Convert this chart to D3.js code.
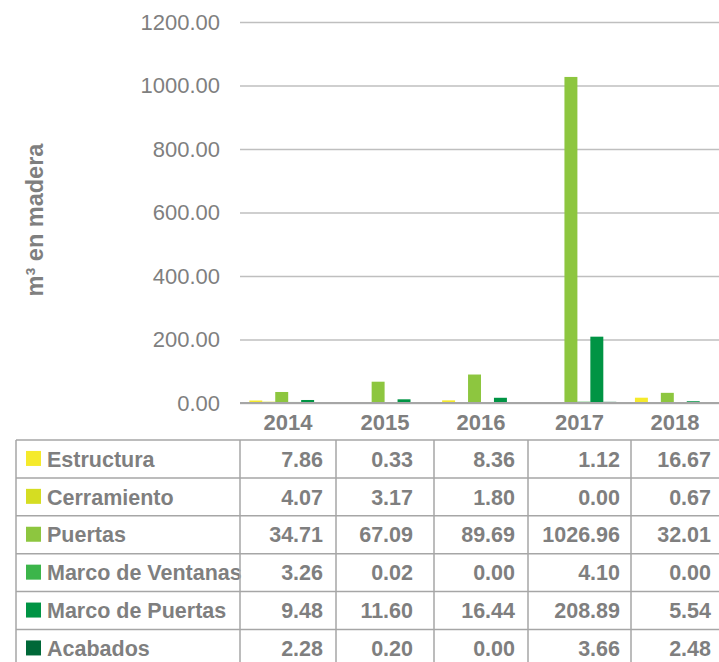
<!DOCTYPE html>
<html>
<head>
<meta charset="utf-8">
<script src="https://cdn.jsdelivr.net/npm/d3@7"></script>
<style>
  body { margin: 0; background: #fff; }
  svg { display: block; font-family: "Liberation Sans", Arial, sans-serif; }
</style>
</head>
<body>
<svg width="719" height="662"></svg>
<script>
// data
var years = ["2014", "2015", "2016", "2017", "2018"];
var seriesNames = ["Estructura", "Cerramiento", "Puertas", "Marco de Ventanas", "Marco de Puertas", "Acabados"];
var seriesColors = ["#f5ea2b", "#d5dd22", "#8dc63f", "#3cb54a", "#009444", "#006838"];
var estructura = [7.86, 0.33, 8.36, 1.12, 16.67];
var cerramiento = [4.07, 3.17, 1.80, 0.00, 0.67];
var puertas = [34.71, 67.09, 89.69, 1026.96, 32.01];
var marcoVentanas = [3.26, 0.02, 0.00, 4.10, 0.00];
var marcoPuertas = [9.48, 11.60, 16.44, 208.89, 5.54];
var acabados = [2.28, 0.20, 0.00, 3.66, 2.48];
var yTicks = [0, 200, 400, 600, 800, 1000, 1200];

var values = [estructura, cerramiento, puertas, marcoVentanas, marcoPuertas, acabados];

var svg = d3.select("svg"),
    width = +svg.attr("width"),
    height = +svg.attr("height");

var grey = "#7f7f7f";
var fmt = d3.format(".2f");

// table column edges (the table's columns are not quite even)
var tableCols = [240, 336, 434, 528, 631, 719];
var valueRight = [323, 413, 515, 620, 711];

// scales
var x = d3.scaleBand()
    .domain(years)
    .range([240, 722]);

var x1 = d3.scaleBand()
    .domain(seriesNames)
    .range([0, x.bandwidth()])
    .paddingOuter(0.72);

var y = d3.scaleLinear()
    .domain([0, 1200])
    .range([403, 22]);

// gridlines + y labels
var yAxis = d3.axisLeft(y)
    .tickValues(yTicks)
    .tickFormat(fmt)
    .tickSize(-(719 - 240))
    .tickPadding(20);

var ga = svg.append("g")
    .attr("transform", "translate(240,0)")
    .call(yAxis);
ga.select(".domain").remove();
ga.selectAll(".tick line")
    .attr("stroke", "#bfbfbf")
    .attr("stroke-width", 1.5);
ga.selectAll(".tick text")
    .attr("fill", grey)
    .style("font-family", "'Liberation Sans', Arial, sans-serif")
    .style("font-size", "22px");

// bars
var groups = svg.append("g").selectAll("g")
    .data(years)
    .enter().append("g")
    .attr("transform", function(d) { return "translate(" + x(d) + ",0)"; });

groups.selectAll("rect")
    .data(function(d, i) {
      return seriesNames.map(function(s, j) { return {key: s, value: values[j][i], color: seriesColors[j]}; });
    })
    .enter().append("rect")
    .attr("x", function(d) { return x1(d.key); })
    .attr("width", x1.bandwidth())
    .attr("y", function(d) { return y(d.value); })
    .attr("height", function(d) { return y(0) - y(d.value); })
    .attr("fill", function(d) { return d.color; });

// baseline drawn over the bars
svg.append("line")
    .attr("x1", 240)
    .attr("x2", 719)
    .attr("y1", y(0))
    .attr("y2", y(0))
    .attr("stroke", "#a6a6a6")
    .attr("stroke-width", 2.2);

// year labels (centred on the table columns)
svg.append("g").selectAll("text")
    .data(years)
    .enter().append("text")
    .attr("x", function(d, i) { return (tableCols[i] + tableCols[i + 1]) / 2; })
    .attr("y", 430)
    .attr("text-anchor", "middle")
    .attr("fill", grey)
    .style("font-weight", "bold")
    .style("font-size", "22px")
    .text(function(d) { return d; });

// axis title
svg.append("text")
    .attr("transform", "translate(43,220) rotate(-90)")
    .attr("text-anchor", "middle")
    .attr("fill", grey)
    .style("font-weight", "bold")
    .style("font-size", "23.5px")
    .text("m³ en madera");

//-----DATA TABLE------------
var tableTop = 440, rowH = 37.9, tableLeft = 16;
var lineColor = "#a6a6a6";
var tbl = svg.append("g");

var rows = tbl.selectAll(".row")
    .data(seriesNames)
    .enter().append("g")
    .attr("class", "row")
    .attr("transform", function(d, i) { return "translate(0," + (tableTop + i * rowH) + ")"; });

rows.append("rect")
    .attr("x", 26)
    .attr("y", rowH / 2 - 8)
    .attr("width", 15)
    .attr("height", 15)
    .attr("fill", function(d, i) { return seriesColors[i]; });

rows.append("text")
    .attr("x", 47)
    .attr("y", rowH / 2)
    .attr("dy", "0.36em")
    .attr("fill", grey)
    .style("font-weight", "bold")
    .style("font-size", "21.5px")
    .text(function(d) { return d; });

rows.each(function(s, j) {
  d3.select(this).selectAll(".val")
    .data(values[j])
    .enter().append("text")
    .attr("class", "val")
    .attr("x", function(d, i) { return valueRight[i]; })
    .attr("y", rowH / 2)
    .attr("dy", "0.36em")
    .attr("text-anchor", "end")
    .attr("fill", grey)
    .style("font-weight", "bold")
    .style("font-size", "21.5px")
    .text(function(d) { return fmt(d); });
});

// horizontal lines
tbl.selectAll(".hline")
    .data(d3.range(seriesNames.length + 1))
    .enter().append("line")
    .attr("x1", tableLeft)
    .attr("x2", 719)
    .attr("y1", function(i) { return tableTop + i * rowH; })
    .attr("y2", function(i) { return tableTop + i * rowH; })
    .attr("stroke", lineColor)
    .attr("stroke-width", 1.5);

// vertical lines
var vx = [tableLeft].concat(tableCols.slice(0, -1));
tbl.selectAll(".vline")
    .data(vx)
    .enter().append("line")
    .attr("x1", function(d) { return d; })
    .attr("x2", function(d) { return d; })
    .attr("y1", tableTop)
    .attr("y2", height)
    .attr("stroke", lineColor)
    .attr("stroke-width", 1.5);
</script>
</body>
</html>
